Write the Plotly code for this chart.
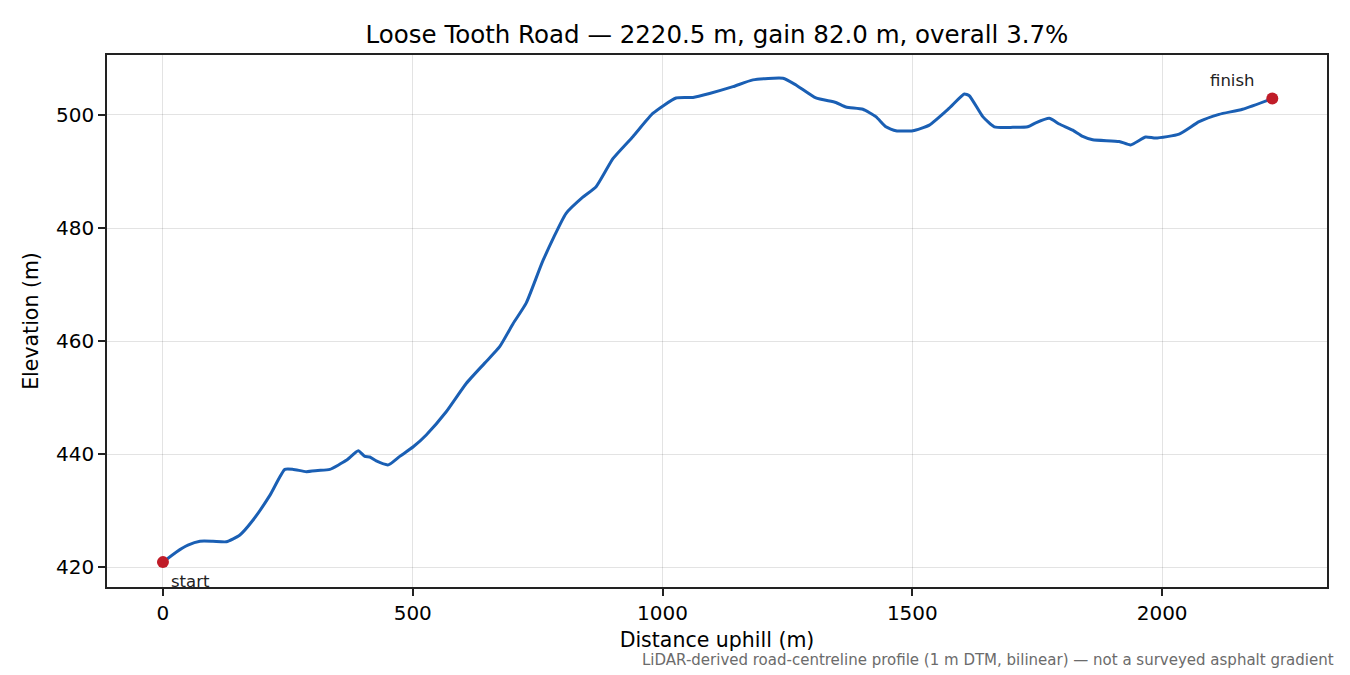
import plotly.graph_objects as go

# Elevation profile (distance m, elevation m)
distance_m = [0, 27, 50, 74, 100, 127, 154, 180, 214, 244, 261, 287, 310, 334, 367,
              391, 404, 414, 427, 451, 474, 501, 527, 567, 607, 644, 674, 701, 727,
              761, 807, 841, 867, 901, 941, 981, 1027, 1061, 1094, 1141, 1181, 1241,
              1267, 1307, 1347, 1367, 1401, 1427, 1447, 1467, 1501, 1534, 1574, 1604,
              1614, 1641, 1664, 1701, 1731, 1747, 1774, 1794, 1821, 1841, 1861, 1914,
              1937, 1967, 1987, 2034, 2074, 2114, 2161, 2220.5]
elevation_m = [420.9, 422.7, 423.9, 424.6, 424.6, 424.5, 425.7, 428.3, 432.7, 437.3,
               437.3, 436.9, 437.1, 437.3, 438.9, 440.6, 439.6, 439.5, 438.8, 438.1,
               439.6, 441.3, 443.4, 447.5, 452.5, 456.1, 459.0, 463.1, 466.7, 474.3,
               482.6, 485.5, 487.3, 492.3, 496.2, 500.3, 503.0, 503.1, 503.8, 505.0,
               506.2, 506.5, 505.3, 503.0, 502.2, 501.4, 501.0, 499.7, 497.9, 497.2,
               497.2, 498.2, 501.2, 503.7, 503.4, 499.7, 497.9, 497.8, 497.9, 498.6,
               499.4, 498.4, 497.3, 496.2, 495.6, 495.3, 494.7, 496.1, 495.9, 496.6,
               498.8, 500.1, 501.0, 502.9]

x_ticks = [0, 500, 1000, 1500, 2000]
y_ticks = [420, 440, 460, 480, 500]

title = "Loose Tooth Road — 2220.5 m, gain 82.0 m, overall 3.7%"
footnote = "LiDAR-derived road-centreline profile (1 m DTM, bilinear) — not a surveyed asphalt gradient"

FONT = "DejaVu Sans, Liberation Sans, sans-serif"

fig = go.Figure()

# profile line
fig.add_trace(go.Scatter(
    x=distance_m, y=elevation_m, mode="lines",
    line=dict(color="#1a5fb4", width=3, shape="spline", smoothing=0.5),
    showlegend=False, hoverinfo="x+y"
))

# start / finish markers
fig.add_trace(go.Scatter(
    x=[distance_m[0], distance_m[-1]], y=[elevation_m[0], elevation_m[-1]],
    mode="markers", marker=dict(color="#c01c28", size=12),
    showlegend=False
))

fig.add_annotation(x=distance_m[0], y=elevation_m[0], text="start", showarrow=False,
                   xanchor="left", yanchor="middle", xshift=6, yshift=-19,
                   font=dict(size=16.5, color="#222222"))
fig.add_annotation(x=distance_m[-1], y=elevation_m[-1], text="finish", showarrow=False,
                   xanchor="right", yanchor="middle", xshift=-15, yshift=18,
                   font=dict(size=16.5, color="#222222"))

fig.add_annotation(xref="paper", yref="paper", x=1.0074, y=-0.137, text=footnote,
                   showarrow=False, xanchor="right", yanchor="middle",
                   font=dict(size=15, color="#6b6b6b"))

axis_common = dict(
    showline=True, linecolor="#222222", linewidth=1.6, mirror=True,
    ticks="outside", ticklen=7, tickwidth=1.6, tickcolor="#222222",
    showgrid=True, gridcolor="rgba(0,0,0,0.11)", gridwidth=1.3,
    zeroline=False, tickfont=dict(size=20, color="black"),
    title_font=dict(size=20.5, color="black"),
)

fig.update_xaxes(range=[-112, 2330], tickvals=x_ticks, title_text="Distance uphill (m)",
                 title_standoff=9, **axis_common)
fig.update_yaxes(range=[416.5, 510.6], tickvals=y_ticks, title_text="Elevation (m)",
                 title_standoff=12, **axis_common)

# the page has an 8 px body margin, so margins are shifted to line up with the target
fig.update_layout(
    width=1350, height=675,
    template="plotly_white",
    paper_bgcolor="white", plot_bgcolor="white",
    font=dict(family=FONT, color="black"),
    title=dict(text=title, x=0.5, xanchor="center", xref="paper",
               y=0.9615, yanchor="middle",
               font=dict(size=24.5, color="black")),
    margin=dict(l=99, r=31, t=47, b=96),
)

fig.write_html("out.html")
